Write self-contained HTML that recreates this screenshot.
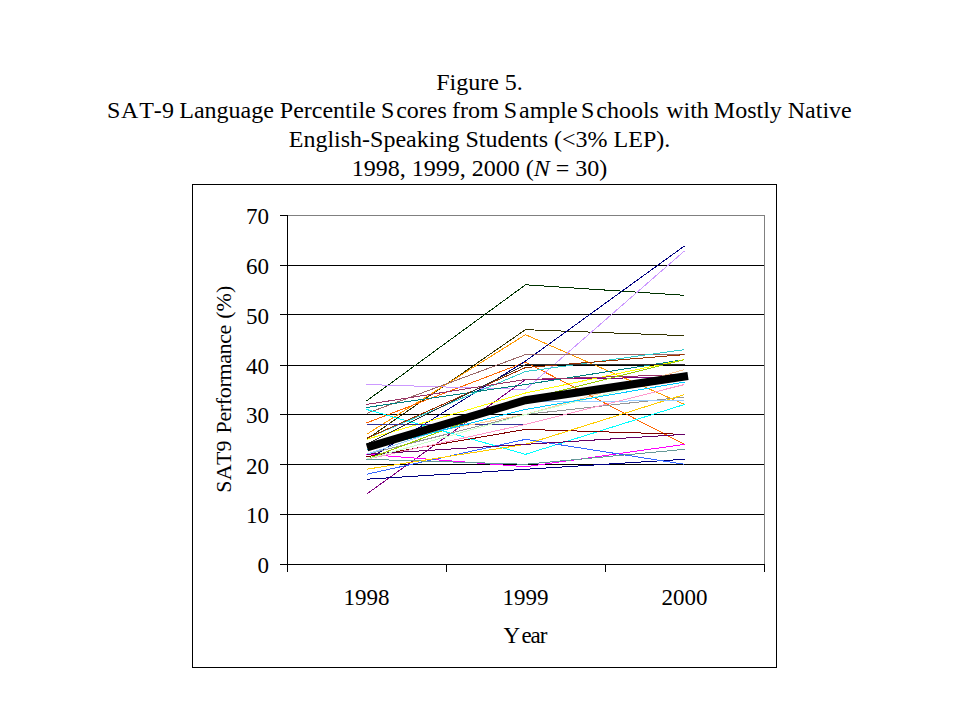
<!DOCTYPE html>
<html><head><meta charset="utf-8"><style>
html,body{margin:0;padding:0;background:#fff;width:959px;height:719px;overflow:hidden}
svg{position:absolute;left:0;top:0;display:block}
text{font-family:"Liberation Serif",serif;fill:#000}
</style></head><body>
<svg width="959" height="719" viewBox="0 0 959 719">
<g font-size="24" text-anchor="middle">
<text x="479.5" y="90">Figure 5.</text>
<text y="118" text-anchor="start"><tspan x="107 121 139.3 153.8 162.1">SAT-9</tspan><tspan x="179.3">Language</tspan><tspan x="279.8">Percentile</tspan><tspan x="380.9">S</tspan><tspan x="396.2">cores</tspan><tspan x="452.1">from</tspan><tspan x="503.8">S</tspan><tspan x="519">ample</tspan><tspan x="580.9">S</tspan><tspan x="596.3">chools</tspan><tspan x="666.2">with</tspan><tspan x="713.8">Mostly</tspan><tspan x="787.75">Native</tspan></text>
<text x="479.5" y="147">English-Speaking Students (&lt;3% LEP).</text>
<text x="479.5" y="176">1998, 1999, 2000 (<tspan font-style="italic">N</tspan> = 30)</text>
</g>
<rect x="192.5" y="184.5" width="584" height="483" fill="#fff" stroke="#000" stroke-width="1"/>
<g stroke="#000" stroke-width="1" shape-rendering="crispEdges">
<line x1="287" y1="265.5" x2="764" y2="265.5"/>
<line x1="287" y1="314.5" x2="764" y2="314.5"/>
<line x1="287" y1="365.5" x2="764" y2="365.5"/>
<line x1="287" y1="414.5" x2="764" y2="414.5"/>
<line x1="287" y1="464.5" x2="764" y2="464.5"/>
<line x1="287" y1="514.5" x2="764" y2="514.5"/>
</g>
<line x1="287" y1="215.5" x2="764" y2="215.5" stroke="#808080" shape-rendering="crispEdges"/>
<line x1="764.5" y1="215" x2="764.5" y2="564" stroke="#808080" shape-rendering="crispEdges"/>
<g fill="none" stroke-width="1" stroke-linejoin="miter" shape-rendering="crispEdges">
<polyline points="366.5,400.97 525.5,284.80 684.5,295.27" stroke="#003300"/>
<polyline points="366.5,439.36 525.5,329.67 684.5,335.65" stroke="#333300"/>
<polyline points="366.5,434.37 525.5,334.66 684.5,404.46" stroke="#FF9900"/>
<polyline points="366.5,422.90 525.5,362.08 684.5,444.34" stroke="#FF6600"/>
<polyline points="366.5,460.30 525.5,361.08 684.5,245.91" stroke="#000080"/>
<polyline points="366.5,384.51 525.5,389.50 684.5,250.90" stroke="#CC99FF"/>
<polyline points="366.5,413.43 525.5,354.60 684.5,354.60" stroke="#996666"/>
<polyline points="366.5,438.36 525.5,371.55 684.5,349.61" stroke="#33CCCC"/>
<polyline points="366.5,409.44 525.5,454.31 684.5,404.46" stroke="#00FFFF"/>
<polyline points="366.5,494.20 525.5,379.53 684.5,377.04" stroke="#800080"/>
<polyline points="366.5,407.45 525.5,384.51 684.5,359.59" stroke="#008080"/>
<polyline points="366.5,439.36 525.5,392.99 684.5,359.59" stroke="#FFFF00"/>
<polyline points="366.5,456.81 525.5,429.39 684.5,434.37" stroke="#800000"/>
<polyline points="366.5,454.31 525.5,466.78 684.5,444.34" stroke="#FF00FF"/>
<polyline points="366.5,479.24 525.5,469.27 684.5,459.30" stroke="#000080"/>
<polyline points="366.5,474.26 525.5,439.36 684.5,464.29" stroke="#3366FF"/>
<polyline points="366.5,438.36 525.5,367.56 684.5,354.60" stroke="#993300"/>
<polyline points="366.5,404.46 525.5,379.53 684.5,374.54" stroke="#993366"/>
<polyline points="366.5,454.31 525.5,414.43 684.5,396.98" stroke="#969696"/>
<polyline points="366.5,469.27 525.5,444.34 684.5,394.49" stroke="#FFCC00"/>
<polyline points="366.5,454.31 525.5,401.96 684.5,400.47" stroke="#99CCFF"/>
<polyline points="366.5,424.40 525.5,424.40 684.5,384.51" stroke="#333399"/>
<polyline points="366.5,459.30 525.5,424.40 684.5,384.51" stroke="#FF99CC"/>
<polyline points="366.5,444.34 525.5,414.43 684.5,369.56" stroke="#FFCC99"/>
<polyline points="366.5,454.31 525.5,444.34 684.5,434.37" stroke="#660066"/>
<polyline points="366.5,459.30 525.5,399.47 684.5,359.59" stroke="#99CC00"/>
<polyline points="366.5,459.30 525.5,414.43 684.5,374.54" stroke="#CCFFCC"/>
<polyline points="366.5,459.30 525.5,464.29 684.5,449.33" stroke="#669999"/>
<polyline points="366.5,444.34 525.5,364.57 684.5,364.57" stroke="#333333"/>
<polyline points="366.5,449.33 525.5,409.44 684.5,382.02" stroke="#00CCFF"/>
</g>
<polyline points="367.0,447.33 525.5,400.22 688.0,376.02" fill="none" stroke="#000" stroke-width="8" stroke-linejoin="miter" stroke-linecap="butt"/>
<g stroke="#000" stroke-width="1" shape-rendering="crispEdges">
<line x1="287.5" y1="215" x2="287.5" y2="572"/>
<line x1="280" y1="564.5" x2="764" y2="564.5"/>
<line x1="280" y1="215.5" x2="287" y2="215.5"/>
<line x1="280" y1="265.5" x2="287" y2="265.5"/>
<line x1="280" y1="314.5" x2="287" y2="314.5"/>
<line x1="280" y1="365.5" x2="287" y2="365.5"/>
<line x1="280" y1="414.5" x2="287" y2="414.5"/>
<line x1="280" y1="464.5" x2="287" y2="464.5"/>
<line x1="280" y1="514.5" x2="287" y2="514.5"/>
<line x1="280" y1="564.5" x2="287" y2="564.5"/>
<line x1="287.5" y1="564" x2="287.5" y2="572"/>
<line x1="446.5" y1="564" x2="446.5" y2="572"/>
<line x1="605.5" y1="564" x2="605.5" y2="572"/>
<line x1="764.5" y1="564" x2="764.5" y2="572"/>
</g>
<g font-size="23">
<text x="269" y="223.5" text-anchor="end">70</text>
<text x="269" y="273.5" text-anchor="end">60</text>
<text x="269" y="323.5" text-anchor="end">50</text>
<text x="269" y="373.5" text-anchor="end">40</text>
<text x="269" y="422.5" text-anchor="end">30</text>
<text x="269" y="473.5" text-anchor="end">20</text>
<text x="269" y="522.5" text-anchor="end">10</text>
<text x="269" y="572.5" text-anchor="end">0</text>
<text x="366.5" y="604.5" text-anchor="middle">1998</text>
<text x="525.5" y="604.5" text-anchor="middle">1999</text>
<text x="684.5" y="604.5" text-anchor="middle">2000</text>
<text y="643" text-anchor="start"><tspan x="503.6">Y</tspan><tspan x="521.4" letter-spacing="-1">ear</tspan></text>
<text transform="translate(231,390) rotate(-90)" text-anchor="start" font-size="22"><tspan x="-102.7 -90.2 -75 -61.4">SAT9</tspan><tspan x="-43.5" letter-spacing="-0.35">Performance</tspan><tspan x="71.25">(%)</tspan></text>
</g>
</svg>
</body></html>
